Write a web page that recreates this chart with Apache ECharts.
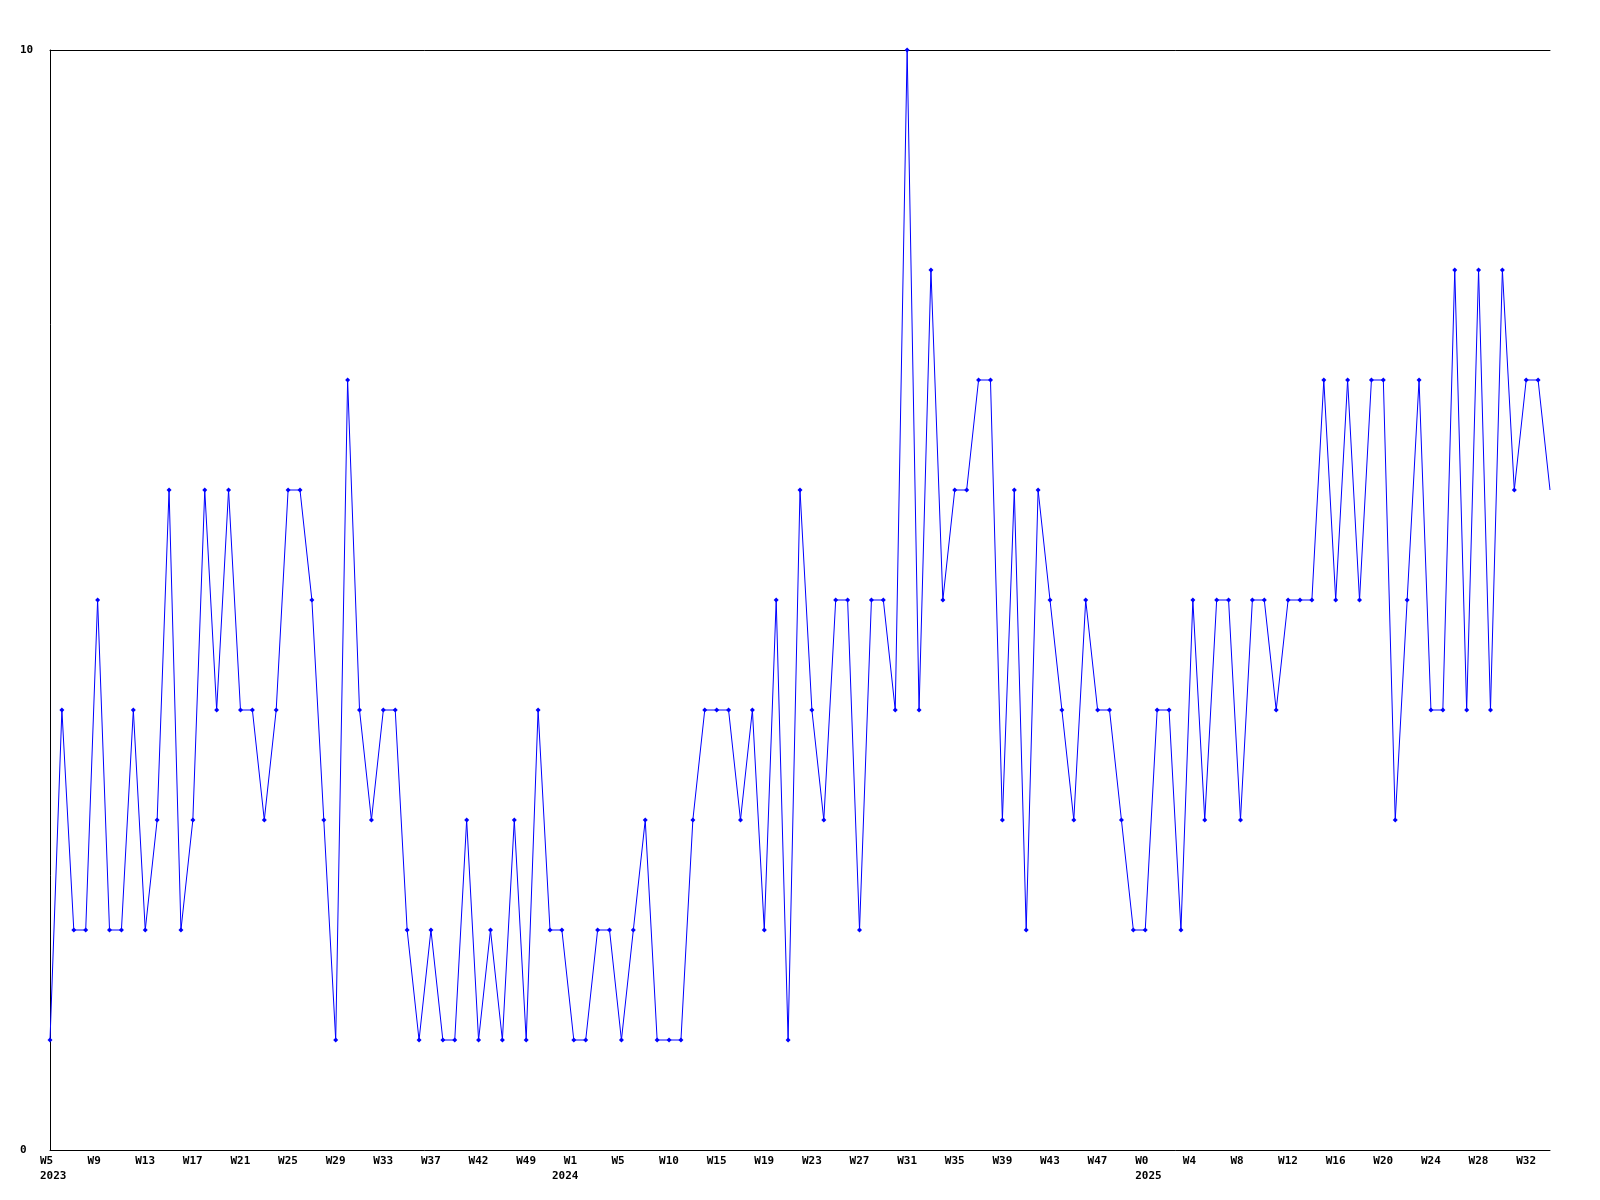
<!DOCTYPE html>
<html>
<head>
<meta charset="utf-8">
<script src="https://cdn.jsdelivr.net/npm/echarts@6/dist/echarts.min.js"></script>
<style>
html,body{margin:0;padding:0;background:#fff;}
#chart{width:1600px;height:1200px;}
</style>
</head>
<body>
<div id="chart"></div>
<script>
const weeks = [
'W5','W6','W7','W8','W9','W10','W11','W12','W13','W14','W15','W16','W17','W18','W19','W20','W21','W22','W23','W24','W25','W26','W27','W28','W29','W30','W31','W32','W33','W34','W35','W36','W37',
'W38','W40','W41','W42','W43','W45','W47','W49','W50','W51',
'W0','W1','W2','W3','W4','W5','W6','W7','W9','W10','W11','W12','W14','W15','W16','W17','W18',
'W19','W20','W21','W22','W23','W24','W25','W26','W27','W28','W29','W30','W31','W32','W33','W34','W35','W36','W37','W38','W39','W40','W41','W42','W43','W44','W45','W46','W47',
'W48','W50','W52',
'W0','W1','W2','W3','W4','W5','W6','W7','W8','W9','W10','W11','W12','W13','W14','W15','W16','W17','W18','W19','W20','W21','W22','W23','W24','W25','W26','W27','W28','W29','W30','W31','W32','W33','W34'
];
const yearStartIndex = [0, 43, 92];
const yearNames = ['2023', '2024', '2025'];
const values = [
1,4,2,2,5,2,2,4,2,3,
6,2,3,6,4,6,4,4,3,4,
6,6,5,3,1,7,4,3,4,4,
2,1,2,1,1,3,1,2,1,3,
1,4,2,2,1,1,2,2,1,2,
3,1,1,1,3,4,4,4,3,4,
2,5,1,6,4,3,5,5,2,5,
5,4,10,4,8,5,6,6,7,7,
3,6,2,6,5,4,3,5,4,4,
3,2,2,4,4,2,5,3,5,5,
3,5,5,4,5,5,5,7,5,7,
5,7,7,3,5,7,4,4,8,4,
8,4,8,6,7,7,6
];
const yTicks = [0, 10];

function yearOf(i) {
  let y = yearNames[0];
  for (let k = 0; k < yearStartIndex.length; k++) if (i >= yearStartIndex[k]) y = yearNames[k];
  return y;
}
const categories = weeks.map((w, i) => yearOf(i) + '-' + w);

const FONT = 'DejaVu Sans Mono';
const txt = {fontFamily: FONT, fontWeight: 'bold', fontSize: 11, color: '#000'};

const seriesData = values.map((v, i) => i === values.length - 1 ? {value: v, symbol: 'none'} : v);

const chart = echarts.init(document.getElementById('chart'), null, {renderer: 'canvas'});
chart.setOption({
  animation: false,
  backgroundColor: '#fff',
  grid: {left: 50, right: 50, top: 50, bottom: 50, containLabel: false},
  xAxis: [
    {
      type: 'category', position: 'bottom', data: categories, boundaryGap: false,
      axisLine: {show: true, lineStyle: {color: '#000', width: 1}},
      axisTick: {show: false},
      splitLine: {show: false},
      axisLabel: {
        interval: 3, margin: 6,
        formatter: (val, idx) => '{w|' + weeks[idx] + '}',
        rich: {w: Object.assign({width: 20, align: 'left'}, txt)}
      }
    },
    {
      type: 'category', position: 'bottom', offset: 15, data: categories, boundaryGap: false,
      axisLine: {show: false}, axisTick: {show: false}, splitLine: {show: false},
      axisLabel: {
        interval: 0, margin: 6,
        formatter: (val, idx) => {
          const k = yearStartIndex.indexOf(idx);
          return k >= 0 ? '{y|' + yearNames[k] + '}' : '';
        },
        rich: {y: Object.assign({width: 20, align: 'left'}, txt)}
      }
    },
    {
      type: 'category', position: 'top', data: categories, boundaryGap: false,
      axisLine: {show: true, lineStyle: {color: '#000', width: 1}},
      axisTick: {show: false}, axisLabel: {show: false}, splitLine: {show: false}
    }
  ],
  yAxis: {
    type: 'value', min: yTicks[0], max: yTicks[1], interval: yTicks[1] - yTicks[0],
    axisLine: {show: true, lineStyle: {color: '#000', width: 1}},
    axisTick: {show: false},
    splitLine: {show: false},
    axisLabel: Object.assign({align: 'left', margin: 30}, txt)
  },
  series: [{
    type: 'line', xAxisIndex: 0, data: seriesData,
    symbol: 'diamond', symbolSize: 5, showAllSymbol: true,
    lineStyle: {color: '#0000ff', width: 1},
    itemStyle: {color: '#0000ff'},
    clip: false
  }]
});
</script>
</body>
</html>
